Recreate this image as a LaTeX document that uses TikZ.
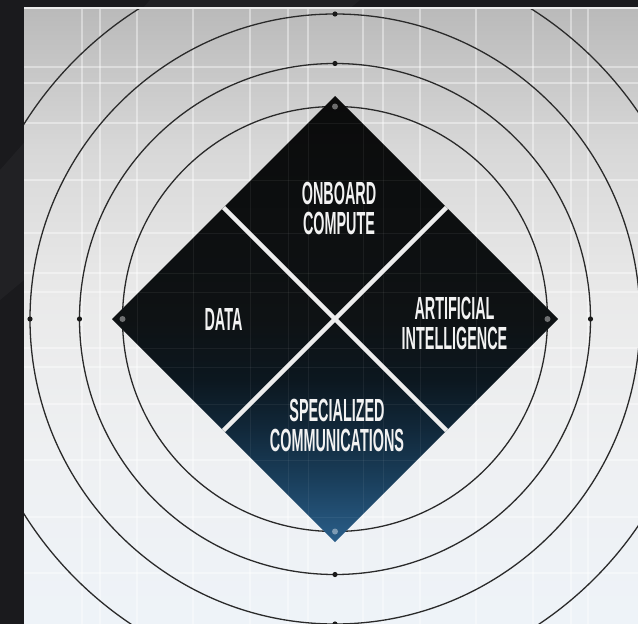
\documentclass[tikz,border=0pt]{standalone}
\usepackage{fontspec}
\usetikzlibrary{calc}
\newfontfamily\condfont[FakeStretch=0.45]{Liberation Sans}
\definecolor{framec}{HTML}{1A1A1D}
\definecolor{framel}{HTML}{26262A}
\definecolor{bgA}{HTML}{EEF3F8}
\definecolor{bgB}{HTML}{EEF0F2}
\definecolor{bgC}{HTML}{EAEAEA}
\definecolor{bgD}{HTML}{D8D8D8}
\definecolor{bgE}{HTML}{BABABA}
\definecolor{ringc}{HTML}{2A2A2A}
\definecolor{txt}{HTML}{F2F2F2}
\definecolor{crossc}{HTML}{EDEDED}
\definecolor{dA}{HTML}{2A5E89}
\definecolor{dB}{HTML}{1A3F5C}
\definecolor{dC}{HTML}{11283A}
\definecolor{dD}{HTML}{0C171F}
\definecolor{dE}{HTML}{0E1214}
\definecolor{dF}{HTML}{0B0B0B}
\pgfdeclareverticalshading{diamshade}{100bp}{color(0bp)=(dA); color(25bp)=(dA); color(31.9bp)=(dB); color(37.6bp)=(dC); color(43.2bp)=(dD); color(50bp)=(dE); color(75bp)=(dF); color(100bp)=(dF)}
\pgfdeclareverticalshading{bgshade}{100bp}{color(0bp)=(bgA); color(25bp)=(bgA); color(39.1bp)=(bgB); color(51.3bp)=(bgC); color(63.5bp)=(bgD); color(75bp)=(bgE); color(100bp)=(bgE)}
\tikzset{
  ring/.style={draw=ringc, line width=1.3pt},
  gridline/.style={draw=white, line width=1.2pt, opacity=0.4},
  gridfaint/.style={draw=white, line width=1pt, opacity=0.06},
  crossline/.style={draw=crossc, line width=4.5pt, line cap=butt},
  blackdot/.style={fill=black!90},
  tipdot/.style={fill=white, opacity=0.4},
  lbl/.style={text=txt, font=\condfont\bfseries\fontsize{32}{30}\selectfont, align=center, inner sep=0pt}
}
\begin{document}
\begin{tikzpicture}[x=1pt,y=-1pt]
\useasboundingbox (0,0) rectangle (638,624);
% dark frame
\fill[framec] (0,0) rectangle (638,624);
\fill[framel, opacity=0.6] (150,0) -- (360,0) -- (0,300) -- (0,170) -- cycle;
% panel
\fill[white!92!black] (24,7) rectangle (638,9);
\shade[shading=bgshade] (24,9) rectangle (638,624);
\begin{scope}
\clip (24,9) rectangle (638,624);
% grid
\foreach \gx in {82,100,137,193,250,288,308,363,383,420,476,533,571,588}
  \draw[gridline] (\gx,9) -- (\gx,624);
\foreach \gy in {67,83,123,180,233,273,292,348,367,404,460,517,573}
  \draw[gridline] (24,\gy) -- (638,\gy);
% rings
\coordinate (c) at (335,319);
\draw[ring] (c) circle (212.5pt);
\draw[ring] (c) circle (255.5pt);
\draw[ring] (c) circle (305pt);
\draw[ring] (c) circle (367pt);
% diamond
\coordinate (dt) at (335,96);
\coordinate (db) at (335,542);
\coordinate (dl) at (112,319);
\coordinate (dr) at (558,319);
\shade[shading=diamshade] (dt) -- (dr) -- (db) -- (dl) -- cycle;
\begin{scope}
\clip (dt) -- (dr) -- (db) -- (dl) -- cycle;
\foreach \gx in {82,100,137,193,250,288,308,363,383,420,476,533,571,588}
  \draw[gridfaint] (\gx,9) -- (\gx,624);
\foreach \gy in {67,83,123,180,233,273,292,348,367,404,460,517,573}
  \draw[gridfaint] (24,\gy) -- (638,\gy);
\end{scope}
% cross
\draw[crossline] ($(dt)!0.5!(dl)$) -- ($(dr)!0.5!(db)$);
\draw[crossline] ($(dt)!0.5!(dr)$) -- ($(dl)!0.5!(db)$);
% dots
\fill[blackdot] (335,63.5) circle (2.6pt);
\fill[blackdot] (335,14) circle (2.6pt);
\fill[blackdot] (335,574.5) circle (2.6pt);
\fill[blackdot] (335,624) circle (2.6pt);
\fill[blackdot] (79.5,319) circle (2.6pt);
\fill[blackdot] (30,319) circle (2.6pt);
\fill[blackdot] (590.5,319) circle (2.6pt);
\fill[tipdot] (335,106.5) circle (3pt);
\fill[tipdot] (335,531.5) circle (3pt);
\fill[tipdot] (122.5,319) circle (3pt);
\fill[tipdot] (547.5,319) circle (3pt);
\end{scope}
% labels
\node[lbl] (oc) at (339,208.5) {ONBOARD\\COMPUTE};
\node[lbl] (data) at (223.5,319.5) {DATA};
\node[lbl] (ai) at (454.5,323.5) {ARTIFICIAL\\INTELLIGENCE};
\node[lbl] (sc) at (337,425) {SPECIALIZED\\COMMUNICATIONS};
\end{tikzpicture}
\end{document}
